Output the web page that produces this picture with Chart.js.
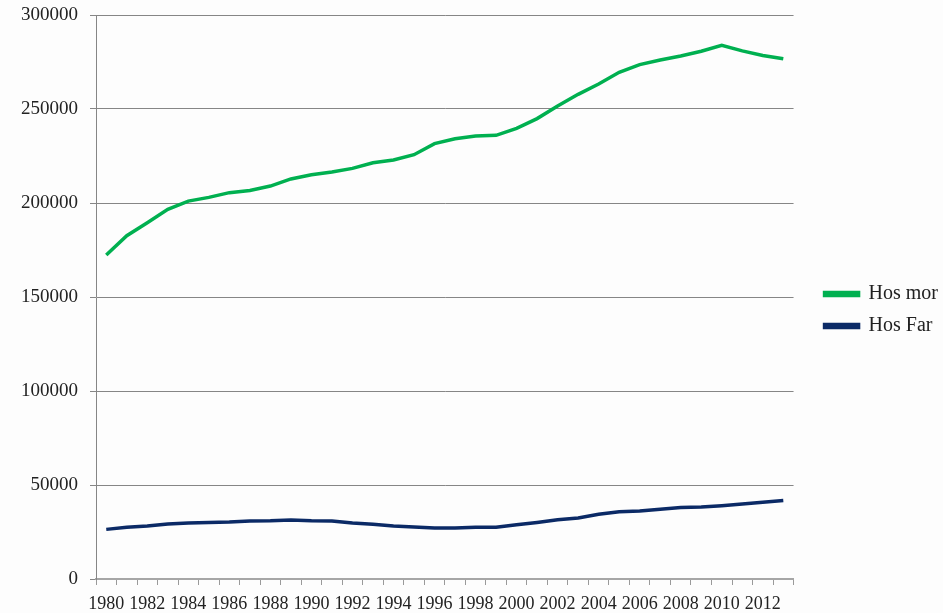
<!DOCTYPE html>
<html>
<head>
<meta charset="utf-8">
<script src="https://cdn.jsdelivr.net/npm/chart.js@4"></script>
<style>
  html, body { margin: 0; padding: 0; background: #fdfdfd; }
  #wrap { width: 943px; height: 613px; }
</style>
</head>
<body>
<div id="wrap"><canvas id="myChart"></canvas></div>
<script>
// years on the x axis
const years = [];
for (let y = 1980; y <= 2013; y++) years.push(String(y));

// children living with mother
const hosMor = [172300, 182600, 189500, 196600, 201000, 203000, 205500, 206700, 209000, 212800,
                215000, 216500, 218400, 221400, 222900, 225700, 231600, 234200, 235600, 236000,
                239700, 244900, 251600, 257800, 263300, 269500, 273600, 276100, 278200, 280700,
                283900, 280900, 278500, 276700];

// children living with father
const hosFar = [26400, 27500, 28200, 29300, 29800, 30000, 30300, 30900, 31000, 31400,
                31000, 30900, 29800, 29100, 28200, 27700, 27100, 27100, 27500, 27500,
                28900, 30100, 31500, 32400, 34400, 35800, 36200, 37100, 38000, 38300,
                39000, 39900, 40800, 41700];

const yTicks = [0, 50000, 100000, 150000, 200000, 250000, 300000];

const fontFam = "'Liberation Serif', 'DejaVu Serif', serif";

// nudge the legend a bit right/up after layout
const legendNudge = {
    id: 'legendNudge',
    afterLayout(chart) {
        const lg = chart.legend;
        if (!lg) return;
        lg.left += 5; lg.right += 5;
        lg.top -= 4; lg.bottom -= 4;
    }
};

const ctx = document.getElementById('myChart').getContext('2d');
const myChart = new Chart(ctx, {
    type: 'line',
    data: {
        labels: years,
        datasets: [{
            label: 'Hos mor',
            data: hosMor,
            borderColor: '#00b050',
            backgroundColor: '#00b050',
            borderWidth: 3.5,
            pointRadius: 0,
            tension: 0
        }, {
            label: 'Hos Far',
            data: hosFar,
            borderColor: '#0b2a66',
            backgroundColor: '#0b2a66',
            borderWidth: 3.5,
            pointRadius: 0,
            tension: 0
        }]
    },
    plugins: [legendNudge],
    options: {
        responsive: true,
        maintainAspectRatio: false,
        animation: false,
        layout: { padding: { top: 15, right: 0, bottom: 0, left: 0 } },
        plugins: {
            legend: {
                position: 'right',
                labels: {
                    color: '#222',
                    font: { family: fontFam, size: 20 },
                    boxWidth: 34,
                    boxHeight: 3,
                    padding: 12
                }
            },
            tooltip: { enabled: false }
        },
        scales: {
            x: {
                offset: true,
                grid: {
                    offset: true,
                    drawOnChartArea: false,
                    tickLength: 6,
                    color: '#9a9a9a'
                },
                border: { color: '#a6a6a6', width: 2 },
                ticks: {
                    autoSkip: false,
                    maxRotation: 0,
                    padding: 8,
                    color: '#222',
                    font: { family: fontFam, size: 18 },
                    callback: function (val, i) {
                        return i % 2 === 0 ? this.getLabelForValue(val) : '';
                    }
                },
                afterFit: function (scale) { scale.height = 34; }
            },
            y: {
                min: 0,
                max: 300000,
                afterBuildTicks: function (scale) {
                    scale.ticks = yTicks.map(v => ({ value: v }));
                },
                grid: {
                    color: '#868686',
                    tickLength: 6
                },
                border: { color: '#868686' },
                ticks: {
                    padding: 12,
                    color: '#222',
                    font: { family: fontFam, size: 19 },
                    callback: v => String(v)
                },
                afterFit: function (scale) {
                    scale.width = 96;
                    scale.paddingTop = 0;
                }
            },
            // empty axis, only keeps a gap between plot and legend
            gap: {
                position: 'right',
                display: true,
                grid: { display: false },
                border: { display: false },
                ticks: { display: false },
                afterFit: function (scale) { scale.width = 14; }
            }
        }
    }
});
</script>
</body>
</html>
